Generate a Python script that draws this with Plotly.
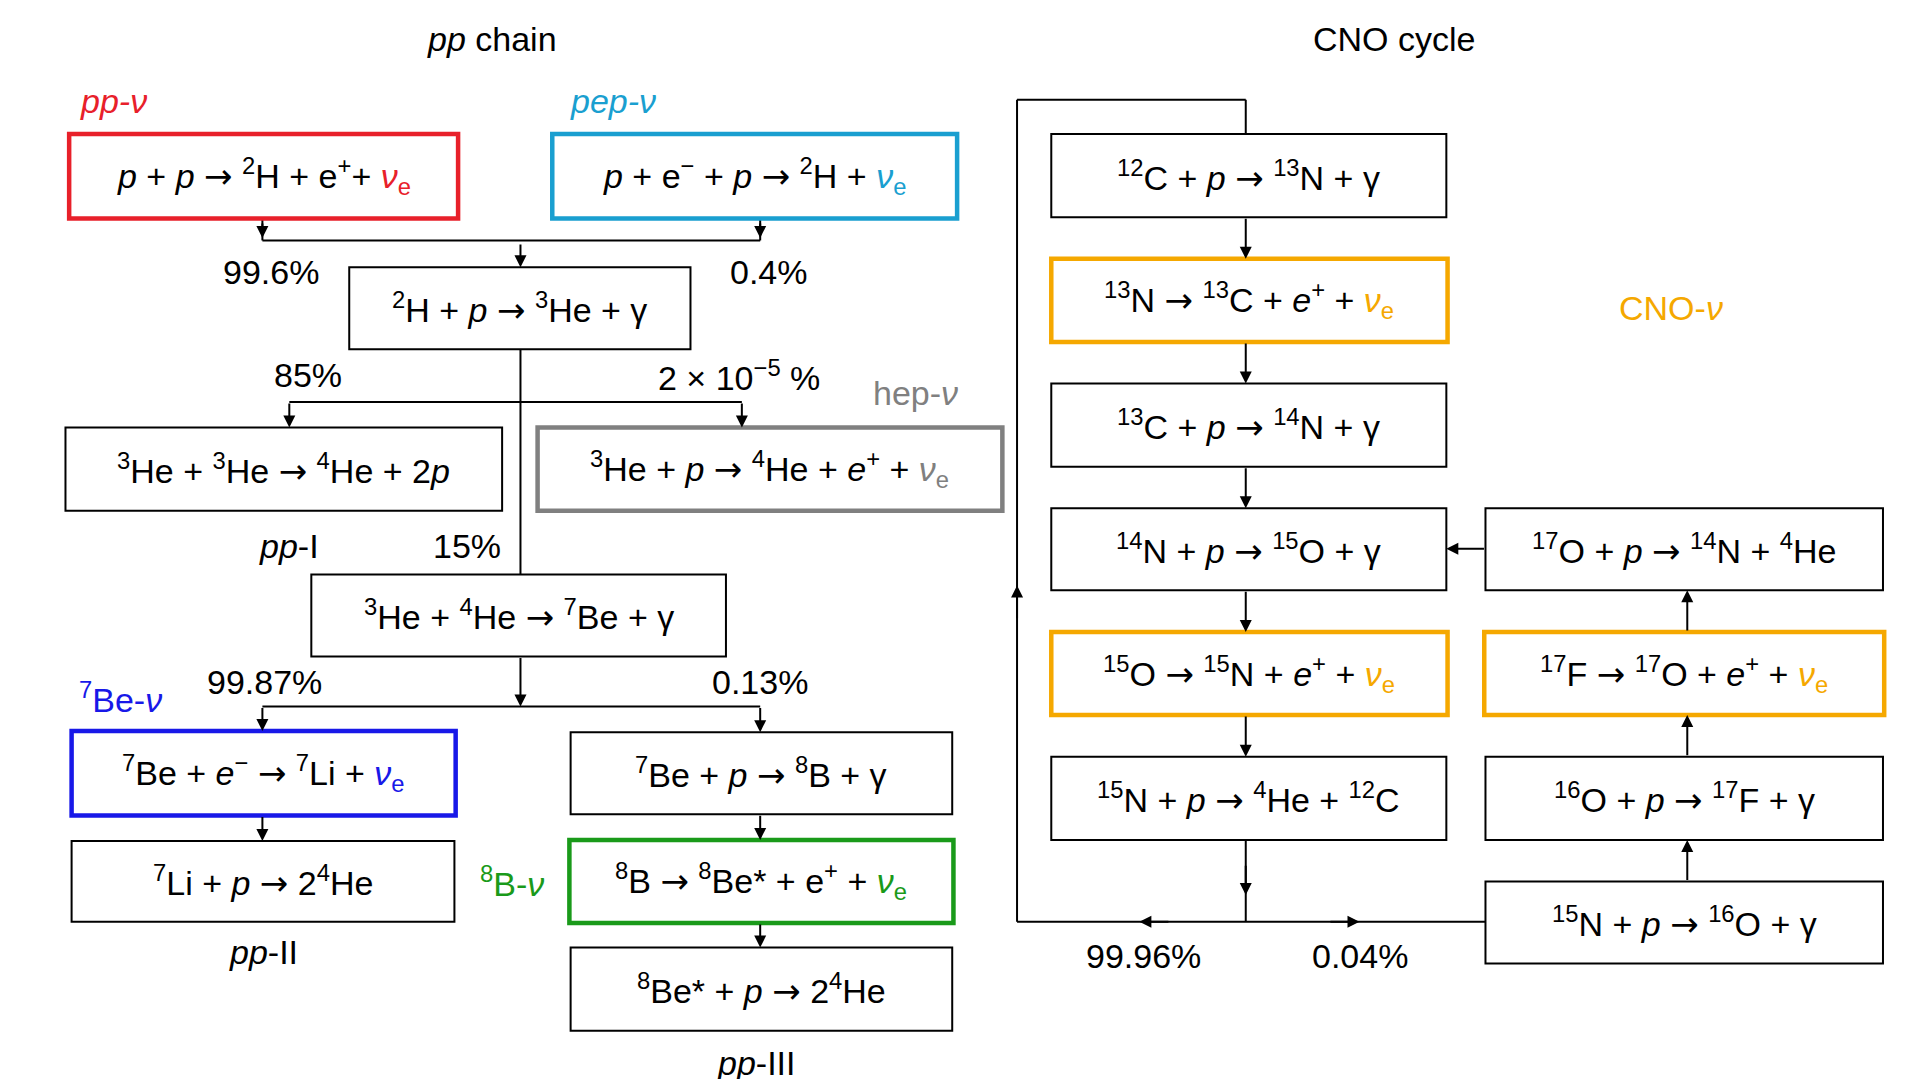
import plotly.graph_objects as go

# reaction boxes: label, x0, y0, x1, y1, border colour (ref coords, y grows down)
E = '<span style="color:{c}"><i>ν</i><sub>e</sub></span>'
A = '<span style="font-family:DejaVu Sans">→</span>'
RED, CYAN, GREY, BLUE, GREEN, ORANGE = '#e8202a', '#1a9fd0', '#808080', '#1818e8', '#1a9a1a', '#f5a800'

box_labels = [
    '<i>p</i> + <i>p</i> ' + A + ' <sup>2</sup>H + e<sup>+</sup>+ ' + E.format(c=RED),
    '<i>p</i> + e<sup>−</sup> + <i>p</i> ' + A + ' <sup>2</sup>H + ' + E.format(c=CYAN),
    '<sup>2</sup>H + <i>p</i> ' + A + ' <sup>3</sup>He + γ',
    '<sup>3</sup>He + <sup>3</sup>He ' + A + ' <sup>4</sup>He + 2<i>p</i>',
    '<sup>3</sup>He + <i>p</i> ' + A + ' <sup>4</sup>He + <i>e</i><sup>+</sup> + <span style="color:#808080"><i>ν</i><sub>e</sub></span>',
    '<sup>3</sup>He + <sup>4</sup>He ' + A + ' <sup>7</sup>Be + γ',
    '<sup>7</sup>Be + <i>e</i><sup>−</sup> ' + A + ' <sup>7</sup>Li + ' + E.format(c=BLUE),
    '<sup>7</sup>Be + <i>p</i> ' + A + ' <sup>8</sup>B + γ',
    '<sup>7</sup>Li + <i>p</i> ' + A + ' 2<sup>4</sup>He',
    '<sup>8</sup>B ' + A + ' <sup>8</sup>Be* + e<sup>+</sup> + ' + E.format(c=GREEN),
    '<sup>8</sup>Be* + <i>p</i> ' + A + ' 2<sup>4</sup>He',
    '<sup>12</sup>C + <i>p</i> ' + A + ' <sup>13</sup>N + γ',
    '<sup>13</sup>N ' + A + ' <sup>13</sup>C + <i>e</i><sup>+</sup> + ' + E.format(c=ORANGE),
    '<sup>13</sup>C + <i>p</i> ' + A + ' <sup>14</sup>N + γ',
    '<sup>14</sup>N + <i>p</i> ' + A + ' <sup>15</sup>O + γ',
    '<sup>15</sup>O ' + A + ' <sup>15</sup>N + <i>e</i><sup>+</sup> + ' + E.format(c=ORANGE),
    '<sup>15</sup>N + <i>p</i> ' + A + ' <sup>4</sup>He + <sup>12</sup>C',
    '<sup>17</sup>O + <i>p</i> ' + A + ' <sup>14</sup>N + <sup>4</sup>He',
    '<sup>17</sup>F ' + A + ' <sup>17</sup>O + <i>e</i><sup>+</sup> + ' + E.format(c=ORANGE),
    '<sup>16</sup>O + <i>p</i> ' + A + ' <sup>17</sup>F + γ',
    '<sup>15</sup>N + <i>p</i> ' + A + ' <sup>16</sup>O + γ',
]
box_x0 = [50, 445, 279, 47, 433, 248, 52, 460, 52, 459, 460, 853, 853, 853, 853, 853, 853, 1208, 1207, 1208, 1208]
box_y0 = [103, 103, 212, 343, 343, 463, 591, 592, 681, 680, 768, 103, 205, 307, 409, 510, 612, 409, 510, 612, 714]
box_x1 = [368, 776, 558, 404, 813, 587, 366, 772, 365, 773, 772, 1176, 1177, 1176, 1176, 1177, 1176, 1533, 1534, 1533, 1533]
box_y1 = [172, 172, 279, 411, 411, 530, 660, 659, 747, 748, 836, 171, 273, 375, 476, 578, 680, 476, 578, 680, 781]
box_col = [RED, CYAN, None, None, GREY, None, BLUE, None, None, GREEN, None,
           None, ORANGE, None, None, ORANGE, None, None, ORANGE, None, None]

# plain connector lines (x0, y0, x1, y1)
lines = [(208, 172, 208, 190), (208, 190, 615, 190), (615, 172, 615, 190),
         (419, 279, 419, 463), (230, 322, 600, 322), (208, 571, 615, 571),
         (1012, 680, 1012, 747), (825, 747, 1208, 747), (825, 747, 825, 75),
         (825, 75, 1012, 75), (1012, 75, 1012, 103)]
# arrows: head (x, y), tail (ax, ay)
arrows = [(208, 188, 208, 175), (615, 188, 615, 175), (419, 212, 419, 192),
          (230, 343, 230, 322), (600, 343, 600, 322), (419, 571, 419, 530),
          (208, 591, 208, 571), (615, 592, 615, 571),
          (208, 681, 208, 660), (615, 680, 615, 659), (615, 768, 615, 748),
          (1012, 205, 1012, 171), (1012, 307, 1012, 273), (1012, 409, 1012, 375),
          (1012, 510, 1012, 476), (1012, 612, 1012, 578), (1012, 725, 1012, 700),
          (925, 747, 950, 747), (1105, 747, 1080, 747), (825, 472, 825, 500),
          (1176, 442, 1208, 442), (1373, 476, 1373, 510), (1373, 578, 1373, 612),
          (1373, 680, 1373, 714)]

# free text labels: text, x, y, colour
texts = [('<i>pp</i> chain', 396, 25, 'black'), ('CNO cycle', 1133, 25, 'black'),
         ('<i>pp-ν</i>', 86, 76, RED), ('<i>pep-ν</i>', 495, 76, CYAN),
         ('99.6%', 215, 216, 'black'), ('0.4%', 622, 216, 'black'),
         ('85%', 245, 300, 'black'), ('2 × 10<sup>−5</sup> %', 598, 300, 'black'),
         ('hep-<i>ν</i>', 742, 315, GREY), ('<i>pp</i>-I', 230, 440, 'black'),
         ('15%', 375, 440, 'black'), ('<sup>7</sup>Be-<i>ν</i>', 92, 564, BLUE),
         ('99.87%', 210, 551, 'black'), ('0.13%', 615, 551, 'black'),
         ('<sup>8</sup>B-<i>ν</i>', 412, 714, GREEN), ('<i>pp</i>-II', 209, 772, 'black'),
         ('<i>pp</i>-III', 612, 862, 'black'), ('99.96%', 928, 775, 'black'),
         ('0.04%', 1105, 775, 'black'), ('CNO-<i>ν</i>', 1360, 245, ORANGE)]

fig = go.Figure()
shapes, anns = [], []
for lab, x0, y0, x1, y1, c in zip(box_labels, box_x0, box_y0, box_x1, box_y1, box_col):
    shapes.append(dict(type='rect', x0=x0, y0=y0, x1=x1, y1=y1, xref='x', yref='y',
                       line=dict(color=c or 'black', width=4.5 if c else 2), fillcolor='white'))
    anns.append(dict(text=lab, x=(x0 + x1) / 2, y=(y0 + y1) / 2, xref='x', yref='y',
                     showarrow=False, font=dict(size=34)))
for x0, y0, x1, y1 in lines:
    shapes.append(dict(type='line', x0=x0, y0=y0, x1=x1, y1=y1, xref='x', yref='y',
                       line=dict(color='black', width=2), layer='below'))
for x, y, ax, ay in arrows:
    anns.append(dict(x=x, y=y, ax=ax, ay=ay, xref='x', yref='y', axref='x', ayref='y',
                     text='', showarrow=True, arrowhead=2, arrowsize=1.2, arrowwidth=2,
                     arrowcolor='black', standoff=0))
for t, x, y, c in texts:
    anns.append(dict(text=t, x=x, y=y, xref='x', yref='y', showarrow=False,
                     font=dict(size=34, color=c)))

fig.add_trace(go.Scatter(x=[0], y=[0], mode='markers', marker=dict(opacity=0),
                         hoverinfo='skip', showlegend=False))
fig.update_layout(width=1908, height=1079, margin=dict(l=0, r=0, t=0, b=0),
                  plot_bgcolor='white', paper_bgcolor='white',
                  font=dict(family='Liberation Sans, Arial', color='black'),
                  shapes=shapes, annotations=anns)
fig.update_xaxes(range=[0, 1560], visible=False)
fig.update_yaxes(range=[882, 0], visible=False)
fig.write_html("out.html")
